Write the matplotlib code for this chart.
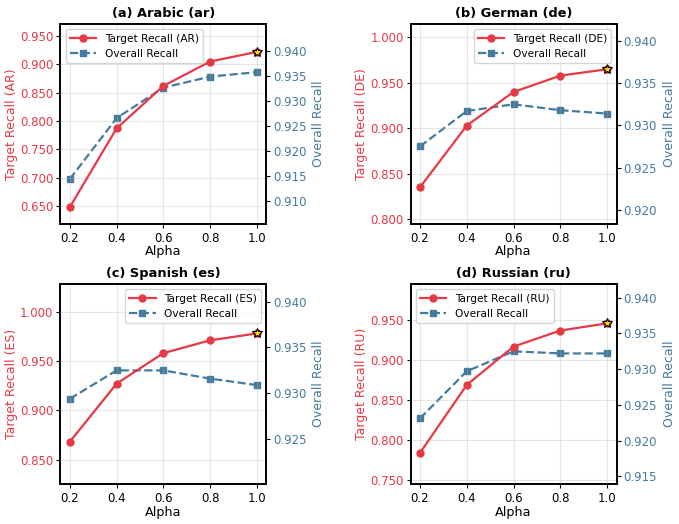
import matplotlib
matplotlib.use("Agg")
import matplotlib.pyplot as plt
from matplotlib.ticker import FormatStrFormatter

alpha = [0.2, 0.4, 0.6, 0.8, 1.0]

langs = ["ar", "de", "es", "ru"]
titles = ["(a) Arabic (ar)", "(b) German (de)", "(c) Spanish (es)", "(d) Russian (ru)"]

target_ar = [0.648, 0.787, 0.862, 0.905, 0.922]
target_de = [0.835, 0.903, 0.940, 0.958, 0.965]
target_es = [0.868, 0.927, 0.958, 0.971, 0.978]
target_ru = [0.784, 0.869, 0.917, 0.937, 0.946]

overall_ar = [0.9143, 0.9265, 0.9326, 0.9348, 0.9357]
overall_de = [0.9275, 0.9317, 0.9325, 0.9318, 0.9314]
overall_es = [0.9294, 0.9325, 0.9325, 0.9316, 0.9309]
overall_ru = [0.9231, 0.9297, 0.9325, 0.9322, 0.9322]

targets = [target_ar, target_de, target_es, target_ru]
overalls = [overall_ar, overall_de, overall_es, overall_ru]

left_lims = [(0.618, 0.971), (0.7945, 1.0147), (0.825, 1.028), (0.745, 0.995)]
right_lims = [(0.9053, 0.9453), (0.9183, 0.9420), (0.9201, 0.9419), (0.9139, 0.9419)]
left_ticks = [
    [0.65, 0.70, 0.75, 0.80, 0.85, 0.90, 0.95],
    [0.80, 0.85, 0.90, 0.95, 1.00],
    [0.85, 0.90, 0.95, 1.00],
    [0.75, 0.80, 0.85, 0.90, 0.95],
]
right_ticks = [
    [0.910, 0.915, 0.920, 0.925, 0.930, 0.935, 0.940],
    [0.920, 0.925, 0.930, 0.935, 0.940],
    [0.925, 0.930, 0.935, 0.940],
    [0.915, 0.920, 0.925, 0.930, 0.935, 0.940],
]
legend_locs = ["upper left", "upper right", "upper right", "upper left"]

red = "#E63946"
blue = "#457B9D"

plt.rcParams["axes.linewidth"] = 1.2
plt.rcParams["xtick.major.size"] = 3
plt.rcParams["ytick.major.size"] = 3
plt.rcParams["xtick.major.pad"] = 2.5
plt.rcParams["ytick.major.pad"] = 2

fig, axes = plt.subplots(2, 2, figsize=(6.79, 5.24), dpi=100)
fig.subplots_adjust(left=0.089, right=0.908, top=0.954, bottom=0.076,
                    wspace=0.70, hspace=0.30)

for i, ax in enumerate(axes.flat):
    lang = langs[i].upper()
    ax2 = ax.twinx()
    l1, = ax.plot(alpha, targets[i], "-o", color=red, lw=1.6, ms=5,
                  label=f"Target Recall ({lang})", zorder=3)
    l2, = ax2.plot(alpha, overalls[i], "--s", color=blue, lw=1.6, ms=5,
                   label="Overall Recall")
    ax.plot(alpha[-1], targets[i][-1], "*", color="gold", mec="black",
            mew=0.8, ms=7.5, zorder=5)
    ax.set_zorder(ax2.get_zorder() + 1)
    ax.patch.set_visible(False)

    ax.set_ylim(*left_lims[i])
    ax2.set_ylim(*right_lims[i])
    ax.set_yticks(left_ticks[i])
    ax2.set_yticks(right_ticks[i])
    ax.yaxis.set_major_formatter(FormatStrFormatter("%.3f"))
    ax2.yaxis.set_major_formatter(FormatStrFormatter("%.3f"))
    ax.set_xticks(alpha)
    ax.set_xticklabels([f"{a:.1f}" for a in alpha])

    ax.tick_params(axis="y", labelcolor=red, labelsize=8.5)
    ax2.tick_params(axis="y", labelcolor=blue, labelsize=8.5)
    ax.tick_params(axis="x", labelsize=8.5)
    ax.set_ylabel(f"Target Recall ({lang})", color=red, fontsize=9, labelpad=1.5)
    ax2.set_ylabel("Overall Recall", color=blue, fontsize=9, labelpad=4)
    ax.set_xlabel("Alpha", fontsize=9.2, labelpad=0.5)
    ax.set_title(titles[i], fontweight="bold", fontsize=9.4, pad=5)
    ax.grid(True, alpha=0.3)
    ax.legend(handles=[l1, l2], loc=legend_locs[i], fontsize=7.6,
              handlelength=2.5)

fig.savefig("out.png", dpi=100)
